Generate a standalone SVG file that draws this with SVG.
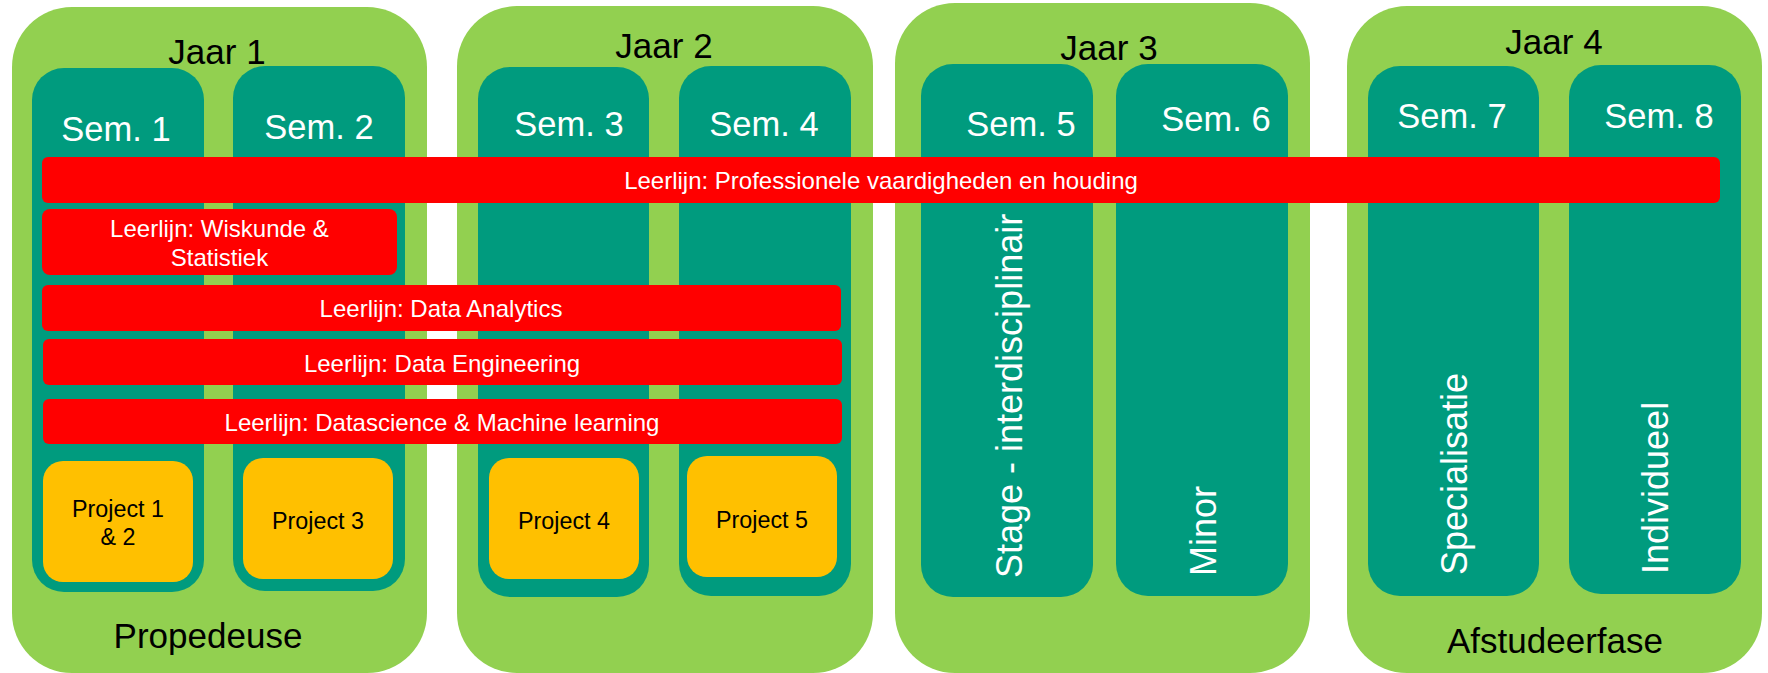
<svg xmlns="http://www.w3.org/2000/svg" width="1768" height="673" viewBox="0 0 1768 673">
<style>
text{font-family:"Liberation Sans",Arial,sans-serif}
.year{fill:#92D050}
.sem{fill:#009B7E}
.bar{fill:#FF0000}
.proj{fill:#FFC000}
.big{font-size:35px;fill:#000;text-anchor:middle}
.semt{font-size:34.5px;fill:#fff;text-anchor:middle}
.bart{font-size:24px;fill:#fff;text-anchor:middle}
.projt{font-size:23.3px;fill:#000;text-anchor:middle}
.vert{font-size:36px;fill:#fff}
</style>
<rect width="1768" height="673" fill="#fff"/>
<g id="jaar1">
<rect class="year" x="12" y="7" width="415" height="666" rx="60" ry="60"/>
<text class="big" x="217" y="64">Jaar 1</text>
<text class="big" x="208" y="648">Propedeuse</text>
</g>
<g id="jaar2">
<rect class="year" x="457" y="6" width="416" height="667" rx="60" ry="60"/>
<text class="big" x="664" y="58">Jaar 2</text>
</g>
<g id="jaar3">
<rect class="year" x="895" y="3" width="415" height="670" rx="60" ry="60"/>
<text class="big" x="1109" y="60">Jaar 3</text>
</g>
<g id="jaar4">
<rect class="year" x="1347" y="6" width="415" height="667" rx="60" ry="60"/>
<text class="big" x="1554" y="54">Jaar 4</text>
<text class="big" x="1555" y="653">Afstudeerfase</text>
</g>
<g id="sem1">
<rect class="sem" x="32" y="68" width="172" height="524" rx="32" ry="32"/>
<text class="semt" x="116" y="141">Sem. 1</text>
</g>
<g id="sem2">
<rect class="sem" x="233" y="66" width="172" height="525" rx="32" ry="32"/>
<text class="semt" x="319" y="139">Sem. 2</text>
</g>
<g id="sem3">
<rect class="sem" x="478" y="67" width="171" height="530" rx="32" ry="32"/>
<text class="semt" x="569" y="136">Sem. 3</text>
</g>
<g id="sem4">
<rect class="sem" x="679" y="66" width="172" height="530" rx="32" ry="32"/>
<text class="semt" x="764" y="136">Sem. 4</text>
</g>
<g id="sem5">
<rect class="sem" x="921" y="64" width="172" height="533" rx="32" ry="32"/>
<text class="semt" x="1021" y="136">Sem. 5</text>
<text class="vert" transform="translate(1022,578) rotate(-90)">Stage - interdisciplinair</text>
</g>
<g id="sem6">
<rect class="sem" x="1116" y="64" width="172" height="532" rx="32" ry="32"/>
<text class="semt" x="1216" y="131">Sem. 6</text>
<text class="vert" transform="translate(1216,576) rotate(-90)">Minor</text>
</g>
<g id="sem7">
<rect class="sem" x="1368" y="66" width="171" height="530" rx="32" ry="32"/>
<text class="semt" x="1452" y="128">Sem. 7</text>
<text class="vert" transform="translate(1467,575) rotate(-90)">Specialisatie</text>
</g>
<g id="sem8">
<rect class="sem" x="1569" y="65" width="172" height="529" rx="32" ry="32"/>
<text class="semt" x="1659" y="128">Sem. 8</text>
<text class="vert" transform="translate(1668,574) rotate(-90)">Individueel</text>
</g>
<g id="leerlijn-prof">
<rect class="bar" x="42" y="157" width="1678" height="46" rx="6" ry="6"/>
<text class="bart" x="881" y="189">Leerlijn: Professionele vaardigheden en houding</text>
</g>
<g id="leerlijn-wisk">
<rect class="bar" x="42" y="209" width="355" height="66" rx="8" ry="8"/>
<text class="bart" x="219.5" y="237">Leerlijn: Wiskunde &amp;</text>
<text class="bart" x="219.5" y="266">Statistiek</text>
</g>
<g id="leerlijn-da">
<rect class="bar" x="42" y="285" width="799" height="46" rx="6" ry="6"/>
<text class="bart" x="441" y="317">Leerlijn: Data Analytics</text>
</g>
<g id="leerlijn-de">
<rect class="bar" x="43" y="339" width="799" height="46" rx="6" ry="6"/>
<text class="bart" x="442" y="372">Leerlijn: Data Engineering</text>
</g>
<g id="leerlijn-ds">
<rect class="bar" x="43" y="399" width="799" height="45" rx="6" ry="6"/>
<text class="bart" x="442" y="431">Leerlijn: Datascience &amp; Machine learning</text>
</g>
<g id="project12">
<rect class="proj" x="43" y="461" width="150" height="121" rx="20" ry="20"/>
<text class="projt" x="118" y="517">Project 1</text>
<text class="projt" x="118" y="545">&amp; 2</text>
</g>
<g id="project3">
<rect class="proj" x="243" y="458" width="150" height="121" rx="20" ry="20"/>
<text class="projt" x="318" y="529">Project 3</text>
</g>
<g id="project4">
<rect class="proj" x="489" y="458" width="150" height="121" rx="20" ry="20"/>
<text class="projt" x="564" y="529">Project 4</text>
</g>
<g id="project5">
<rect class="proj" x="687" y="456" width="150" height="121" rx="20" ry="20"/>
<text class="projt" x="762" y="528">Project 5</text>
</g>
<g id="connectors"/>
</svg>
